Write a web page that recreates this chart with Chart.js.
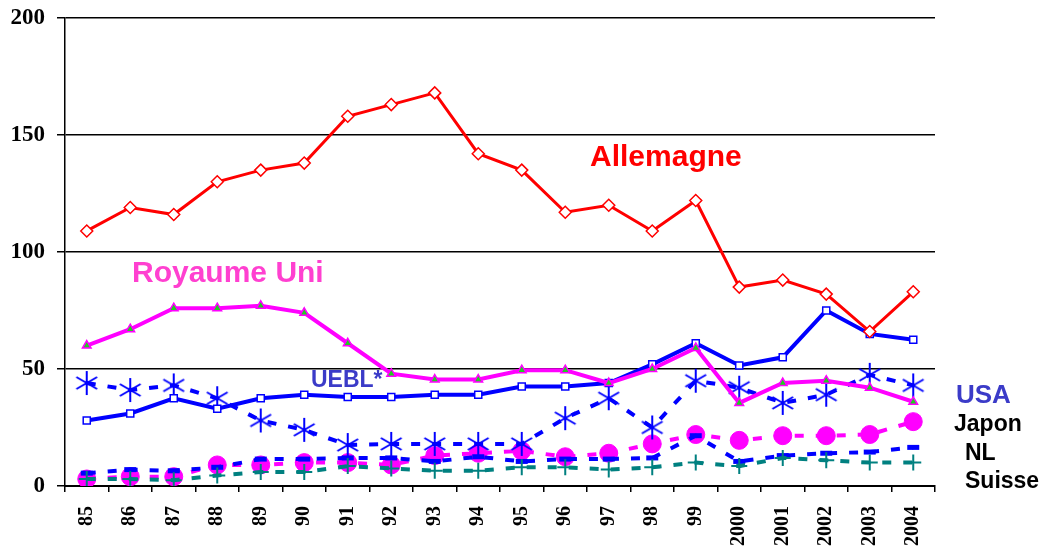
<!DOCTYPE html>
<html>
<head>
<meta charset="utf-8">
<script src="https://cdn.jsdelivr.net/npm/chart.js@4/dist/chart.umd.min.js"></script>
<style>
  html, body { margin: 0; padding: 0; background: #fff; }
  #wrap { width: 1043px; height: 550px; }
</style>
</head>
<body>
<div id="wrap"><canvas id="chart" width="1043" height="550"></canvas></div>
<script>
'use strict';
// data
const years = ['85', '86', '87', '88', '89', '90', '91', '92', '93', '94', '95', '96', '97', '98', '99', '2000', '2001', '2002', '2003', '2004'];
const allemagne = [109, 119, 116, 130, 135, 138, 158, 163, 168, 142, 135, 117, 120, 109, 122, 85, 88, 82, 66, 83];
const royaumeUni = [60, 67, 76, 76, 77, 74, 61, 48, 45.5, 45.5, 49.5, 49.5, 44, 50, 59, 35.5, 44, 45, 42, 36];
const uebl = [28, 31, 37.5, 33, 37.5, 39, 38, 38, 39, 39, 42.5, 42.5, 44, 52, 61, 51.5, 55, 75, 65, 62.5];
const usa = [44, 41, 43, 37.5, 28, 24, 17.5, 18, 18, 18, 18, 29, 37.5, 25, 45, 42, 35.5, 39, 47.5, 43];
const japon = [3, 4, 4, 9, 9, 10, 10, 9, 13, 14, 15, 12.5, 14, 18, 22, 19.5, 21.5, 21.5, 22, 27.5];
const nl = [5.5, 7, 6.5, 8, 11.5, 11.5, 12, 12, 10.5, 12.5, 10.5, 11.5, 11.5, 12, 21.5, 10.5, 13, 14, 14.5, 16.5];
const suisse = [3, 3, 2.5, 4.5, 6, 6, 8.5, 7.5, 6.5, 6.5, 8, 8, 7, 8, 10, 8.5, 12, 11, 10, 10];
const yTicks = [0, 50, 100, 150, 200];

// six-spoke asterisk used for the USA points
const makeAsterisk = function (size, color) {
  const c = document.createElement('canvas');
  c.width = size;
  c.height = size;
  const g = c.getContext('2d');
  g.strokeStyle = color;
  g.lineWidth = 2;
  const m = size / 2;
  const r = size / 2 - 1;
  g.beginPath();
  for (let a = 0; a < 3; a++) {
    const ang = Math.PI / 2 + a * Math.PI / 3;
    g.moveTo(m + r * Math.cos(ang), m - r * Math.sin(ang));
    g.lineTo(m - r * Math.cos(ang), m + r * Math.sin(ang));
  }
  g.stroke();
  return c;
};

const labelNotes = [
  { text: 'Allemagne', x: 590, y: 166, color: '#ff0000', size: 30 },
  { text: 'Royaume Uni', x: 132, y: 282, color: '#ff40d0', size: 30 },
  { text: 'UEBL*', x: 311, y: 387, color: '#3b3bc8', size: 23 },
  { text: 'USA', x: 956, y: 403, color: '#3b3bc8', size: 26 },
  { text: 'Japon', x: 954, y: 431, color: '#000000', size: 23 },
  { text: 'NL', x: 965, y: 460, color: '#000000', size: 23 },
  { text: 'Suisse', x: 965, y: 488, color: '#000000', size: 23 }
];

const notesPlugin = {
  id: 'notes',
  afterDraw(chart) {
    const ctx = chart.ctx;
    ctx.save();
    ctx.textAlign = 'left';
    ctx.textBaseline = 'alphabetic';
    labelNotes.forEach(n => {
      ctx.font = `bold ${n.size}px "Liberation Sans", Arial, sans-serif`;
      ctx.fillStyle = n.color;
      ctx.fillText(n.text, n.x, n.y);
    });
    ctx.restore();
  }
};

const solid = (label, data, color, width, style, radius, fill, order) => ({
  label, data, order,
  borderColor: color, borderWidth: width,
  pointStyle: style, pointRadius: radius,
  pointBackgroundColor: fill, pointBorderColor: color, pointBorderWidth: 1.5,
  tension: 0
});

const dashed = (label, data, color, style, radius, fill, pbw, order) => ({
  label, data, order,
  borderColor: color, borderWidth: 4, borderDash: [9, 12],
  pointStyle: style, pointRadius: radius,
  pointBackgroundColor: fill, pointBorderColor: color, pointBorderWidth: pbw,
  tension: 0
});

new Chart(document.getElementById('chart'), {
  type: 'line',
  data: {
    labels: years,
    datasets: [
      solid('Allemagne', allemagne, '#ff0000', 3, 'rectRot', 6, '#ffffff', 1),
      solid('Royaume Uni', royaumeUni, '#ff00ff', 4, 'triangle', 5, '#22cc22', 2),
      solid('UEBL*', uebl, '#0000ff', 4, 'rect', 5, '#ffffff', 3),
      dashed('Suisse', suisse, '#008080', 'cross', 8, '#008080', 2, 4),
      dashed('NL', nl, '#0000ff', 'line', 6, '#0000ff', 5, 5),
      dashed('USA', usa, '#0000ff', makeAsterisk(26, '#0000ff'), 11, '#0000ff', 2, 6),
      dashed('Japon', japon, '#ff00ff', 'circle', 9, '#ff00ff', 1, 7)
    ]
  },
  options: {
    responsive: false,
    animation: false,
    layout: { padding: { top: 18, right: 108, bottom: 0, left: 0 } },
    plugins: {
      legend: { display: false },
      tooltip: { enabled: false }
    },
    scales: {
      x: {
        offset: true,
        afterFit: s => { s.height = 64; s.paddingLeft = 0; s.paddingRight = 0; },
        grid: { display: true, drawOnChartArea: false, drawTicks: true, tickLength: 6, color: '#000', lineWidth: 1.5, offset: true },
        border: { color: '#000', width: 2 },
        ticks: {
          minRotation: 90, maxRotation: 90, autoSkip: false, padding: 14,
          color: '#000',
          font: { family: '"Liberation Serif", "Times New Roman", serif', size: 20, weight: 'bold' }
        }
      },
      y: {
        min: 0, max: 200,
        afterFit: s => { s.width = 65; s.paddingTop = 0; s.paddingBottom = 0; },
        afterBuildTicks: s => { s.ticks = yTicks.map(v => ({ value: v })); },
        grid: { color: '#000', lineWidth: 1.5, tickLength: 8 },
        border: { color: '#000', width: 1.5 },
        ticks: {
          padding: 12,
          color: '#000',
          font: { family: '"Liberation Serif", "Times New Roman", serif', size: 23, weight: 'bold' }
        }
      }
    }
  },
  plugins: [notesPlugin]
});
</script>
</body>
</html>
